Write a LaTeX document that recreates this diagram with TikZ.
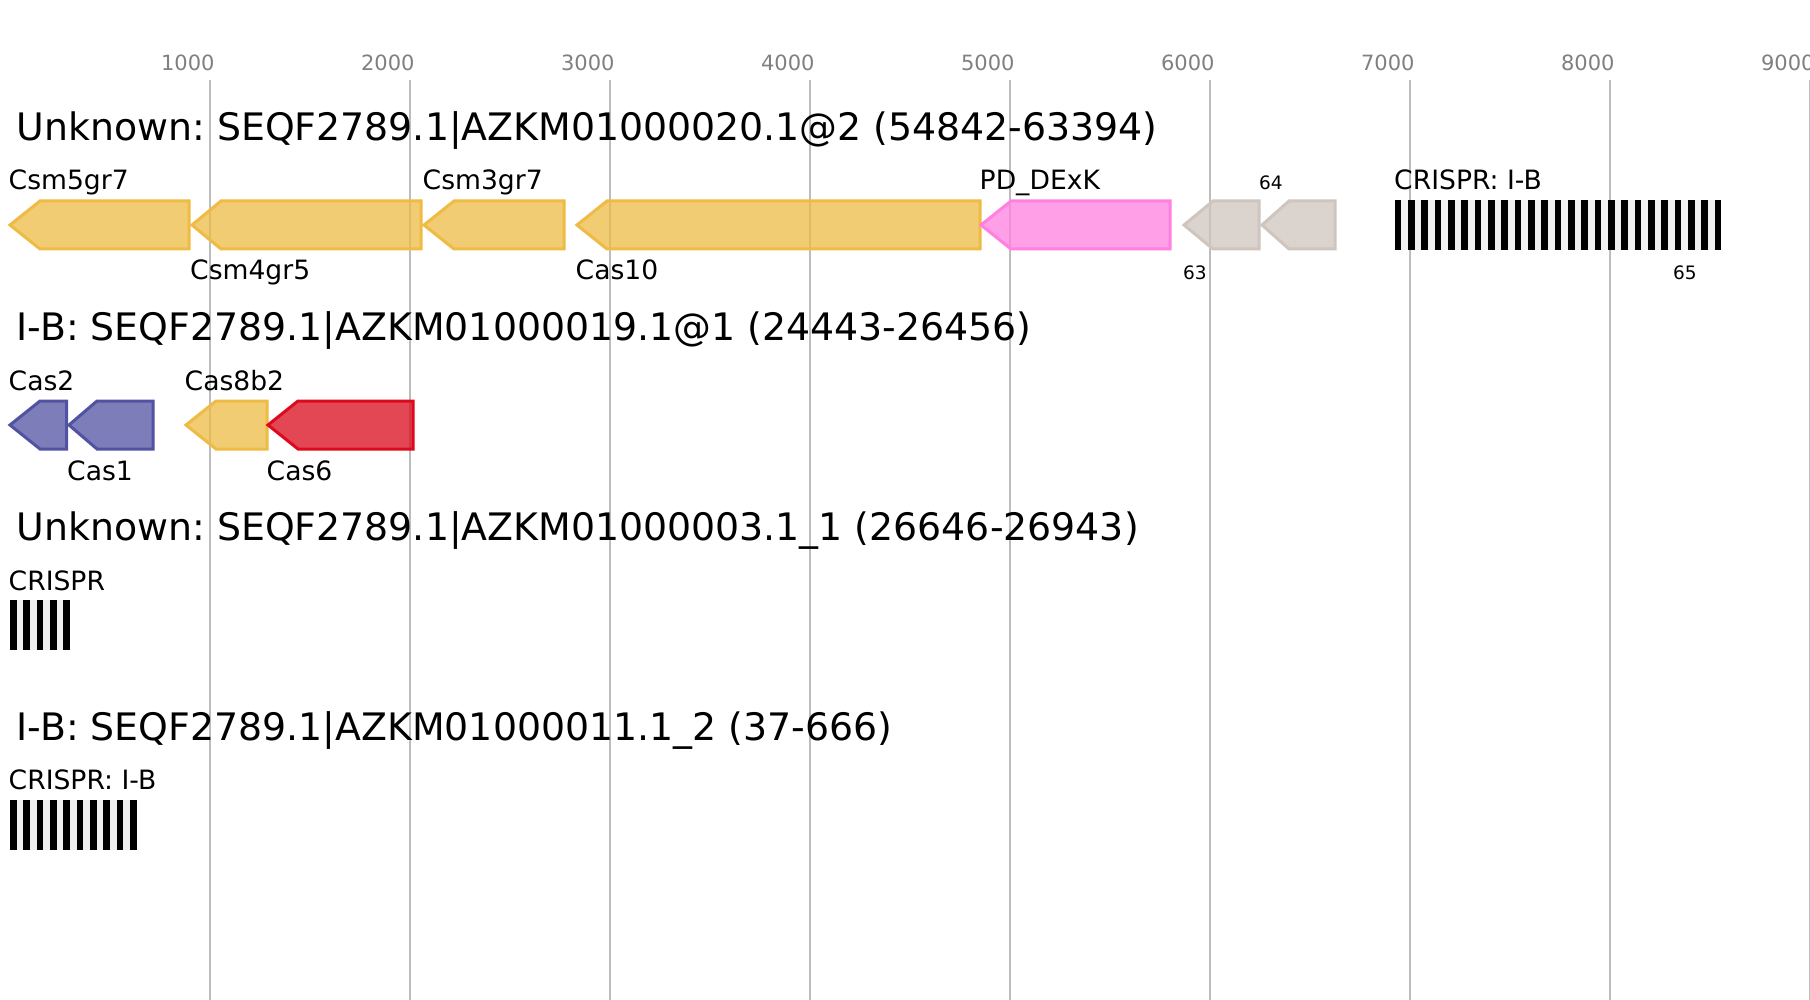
\documentclass[tikz,border=0pt]{standalone}
\usepackage{fontspec}
\setmainfont{DejaVu Sans}
\usepackage{tikz}
\usetikzlibrary{positioning}
\usepackage{xcolor}
\frenchspacing

\definecolor{csmyellow}{HTML}{EEBB44}
\definecolor{pdpink}{HTML}{FF80E0}
\definecolor{hypgray}{HTML}{CFC5BE}
\definecolor{adaptblue}{HTML}{5252A2}
\definecolor{casred}{HTML}{DC0A1C}
\definecolor{spacergray}{HTML}{F0F0F0}
\definecolor{gridgray}{HTML}{BDBDBD}
\definecolor{tickgray}{HTML}{808080}

\tikzset{
    gene/.style={line width=3pt, line join=miter, fill opacity=0.75},
    gridline/.style={draw=gridgray, line width=1.8pt},
    ticklabel/.style={anchor=base, inner sep=0pt, text=tickgray, font=\fontsize{21}{24}\selectfont},
    rowtitle/.style={anchor=base west, inner sep=0pt, font=\fontsize{37.85}{40}\selectfont},
    genelabel/.style={anchor=base west, inner sep=0pt, font=\fontsize{26.6}{28}\selectfont},
    smalllabel/.style={anchor=base west, inner sep=0pt, font=\fontsize{18.5}{20}\selectfont}
}

% left pointing gene: colour, tip x, neck x, end x, middle y
\newcommand{\genearrow}[5]{%
    \filldraw[gene, draw=#1, fill=#1] (#2,#5) -- (#3,#5-24) -- (#4,#5-24)
        -- (#4,#5+24) -- (#3,#5+24) -- cycle;}

% repeat array: left x, number of repeats, top y
\newcommand{\crisprarray}[3]{%
    \fill[spacergray] (#1,#3) rectangle ({#1+(#2-1)*13.333+6.667},#3+50);
    \foreach \k in {1,...,#2} {
        \fill[black] ({#1+(\k-1)*13.333},#3) rectangle ++(6.667,50);
    }}

\begin{document}
\begin{tikzpicture}[x=1pt, y=-1pt]
        \useasboundingbox (0,0) rectangle (1810,1000);
        \fill[white] (0,0) rectangle (1810,1000);

        % scale
        \foreach \p in {1,...,9} {
            \draw[gridline] (9.8+200*\p,80) -- (9.8+200*\p,1000);
            \node[ticklabel] (tick\p) at (9.8+200*\p-22,70.7) {\p000};
        }

        % first locus
        \node[rowtitle] (title1) at (16.5,140.5) {Unknown: SEQF2789.1|AZKM01000020.1@2 (54842-63394)};
        \genearrow{csmyellow}{10}{40}{189}{225}
        \genearrow{csmyellow}{192}{221}{421}{225}
        \genearrow{csmyellow}{424}{454}{564}{225}
        \genearrow{csmyellow}{577}{607}{980}{225}
        \genearrow{pdpink}{981}{1011}{1170}{225}
        \genearrow{hypgray}{1184}{1213}{1259}{225}
        \genearrow{hypgray}{1262}{1289}{1335}{225}
        \crisprarray{1394.7}{25}{200}
        \node[genelabel] (csm5) at (8.5,190) {Csm5gr7};
        \node[genelabel] (csm4) at (190,280) {Csm4gr5};
        \node[genelabel] (csm3) at (422.5,190) {Csm3gr7};
        \node[genelabel] (cas10) at (575.5,280) {Cas10};
        \node[genelabel] (pddexk) at (979.5,190) {PD\_DExK};
        \node[smalllabel] (orf63) at (1183,280) {63};
        \node[smalllabel] (orf64) at (1259,190) {64};
        \node[genelabel] (crispr1) at (1394,190) {CRISPR: I-B};
        \node[smalllabel] (orf65) at (1673,280) {65};

        % second locus
        \node[rowtitle] (title2) at (16.5,340.7) {I-B: SEQF2789.1|AZKM01000019.1@1 (24443-26456)};
        \genearrow{adaptblue}{10}{40}{66.5}{425}
        \genearrow{adaptblue}{69}{97}{153}{425}
        \genearrow{csmyellow}{186}{216}{267}{425}
        \genearrow{casred}{268}{298}{413}{425}
        \node[genelabel] (cas2) at (8.5,390) {Cas2};
        \node[genelabel] (cas1) at (67,480) {Cas1};
        \node[genelabel] (cas8) at (184.5,390) {Cas8b2};
        \node[genelabel] (cas6) at (266.5,480) {Cas6};

        % third locus
        \node[rowtitle] (title3) at (16.5,540.7) {Unknown: SEQF2789.1|AZKM01000003.1\_1 (26646-26943)};
        \crisprarray{10}{5}{600}
        \node[genelabel] (crispr3) at (8.5,590) {CRISPR};

        % fourth locus
        \node[rowtitle] (title4) at (16.5,740.5) {I-B: SEQF2789.1|AZKM01000011.1\_2 (37-666)};
        \crisprarray{10}{10}{800}
        \node[genelabel] (crispr4) at (8.5,789.5) {CRISPR: I-B};
    \end{tikzpicture}
\end{document}
